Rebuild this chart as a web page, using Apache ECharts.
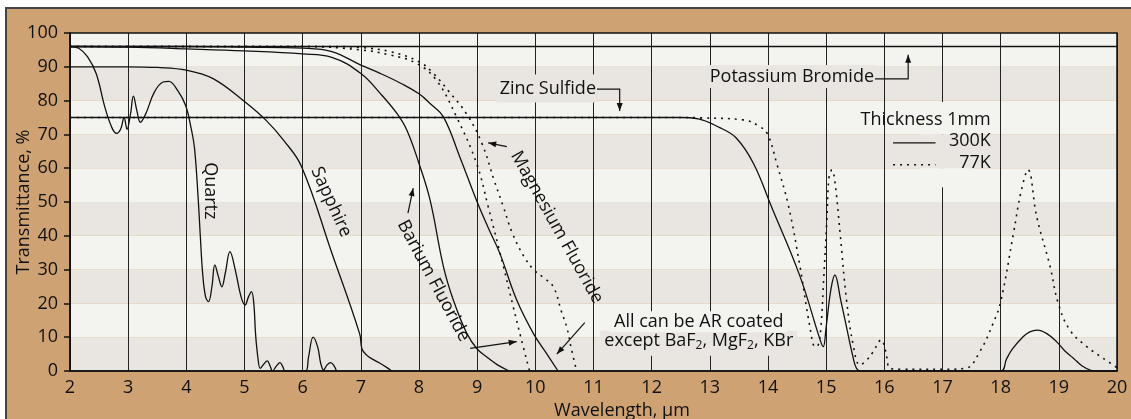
<!DOCTYPE html>
<html><head><meta charset="utf-8">
<script src="https://cdn.jsdelivr.net/npm/echarts@6/dist/echarts.min.js"></script>
<style>
html,body{margin:0;padding:0;background:#fff;overflow:hidden;}
#wrap{position:relative;width:1131px;height:419px;background:#fff;overflow:hidden;}
#frame{position:absolute;left:5px;top:7px;width:1140px;height:430px;background:#cea272;border-top:2px solid #444;border-left:2px solid #444;}
#c{position:absolute;left:0;top:0;width:1131px;height:419px;}
</style>
</head><body><div id="wrap"><div id="frame"></div><div id="c"></div></div>
<script>
// ---- tick labels ----
const xTickLabels = ['2','3','4','5','6','7','8','9','10','11','12','13','14','15','16','17','18','19','20'];
const yTickLabels = ['0','10','20','30','40','50','60','70','80','90','100'];

// ---- series (wavelength µm, transmittance %) ----
const kbrX = [2, 20];
const kbrY = [96, 96];

const znsX = [2, 12.49, 12.8, 13.17, 13.45, 13.75, 14.06, 14.55, 14.9, 14.95, 15.0, 15.08, 15.15, 15.25, 15.35, 15.45, 15.52, 15.6, 18.0, 18.1, 18.2, 18.39, 18.5, 18.63, 18.8, 18.96, 19.1, 19.25, 19.4, 19.55, 19.7, 20];
const znsY = [75, 75, 74.6, 72, 69, 61.4, 48.6, 28, 9, 7.2, 13, 24, 28.4, 21, 13, 5, 0.8, 0, 0, 3.5, 6.5, 10.2, 11.6, 12.1, 11, 8.7, 6, 3.8, 1.5, 0.2, 0, 0];

const zns77X = [2, 12.5, 12.83, 13.57, 13.86, 14.0, 14.15, 14.35, 14.55, 14.72, 14.81, 14.86, 14.91, 14.96, 15.01, 15.05, 15.1, 15.15, 15.24, 15.35, 15.47, 15.58, 15.7, 15.8, 15.95, 16.0, 16.04, 16.1, 16.3, 17.0, 17.4, 17.64, 17.87, 18.0, 18.22, 18.35, 18.47, 18.62, 18.85, 18.99, 19.19, 19.48, 19.76, 20.0];
const zns77Y = [75, 75, 74.9, 74.3, 72.3, 69.8, 61.4, 49, 30.9, 13.1, 7.2, 7.5, 13, 28, 44, 57.5, 59.5, 56, 40.7, 21, 7.2, 1.8, 3.3, 5.5, 9.2, 7.5, 4.2, 0.8, 0.5, 0.5, 0.8, 5.7, 14.1, 20.5, 40.7, 53, 59.5, 45.6, 30.9, 20, 12.1, 7.2, 3.8, 1];

const quartzX = [2.0, 2.15, 2.3, 2.45, 2.6, 2.72, 2.8, 2.87, 2.93, 2.98, 3.04, 3.09, 3.15, 3.21, 3.3, 3.45, 3.6, 3.7, 3.85, 3.99, 4.08, 4.14, 4.2, 4.24, 4.28, 4.33, 4.38, 4.44, 4.49, 4.55, 4.61, 4.67, 4.75, 4.84, 4.94, 5.01, 5.07, 5.12, 5.16, 5.19, 5.23, 5.27, 5.33, 5.39, 5.44, 5.48, 5.55, 5.61, 5.66, 5.7, 6.05, 6.1, 6.18, 6.26, 6.31, 6.36, 6.42, 6.48, 6.54, 6.58];
const quartzY = [96, 95.5, 93, 88, 78, 72, 70.3, 71.5, 75, 71.5, 76, 81.3, 77, 73.6, 76, 82.5, 85.5, 85.7, 83, 78.5, 72, 66, 52, 40, 29, 22, 20.5, 25, 31.4, 28, 24.9, 29, 35.3, 30, 22, 19.5, 22, 23.5, 20, 11, 4, 0.8, 2, 3, 1.5, 0, 1.5, 2.5, 1.2, 0, 0, 4, 10, 7, 2.3, 0.3, 1.8, 2.5, 1.5, 0];

const sapphireX = [2, 2.5, 3, 3.5, 4, 4.46, 5, 5.38, 5.67, 5.98, 6.5, 6.98, 7.02, 7.1, 7.2, 7.33, 7.45, 7.53];
const sapphireY = [90, 90, 90, 89.8, 89, 86.5, 79.7, 74, 68.3, 60.5, 35, 11, 6.5, 4.7, 3.5, 2.3, 1, 0];

const bafX = [2, 3, 4, 5, 6, 6.5, 7, 7.34, 7.62, 7.79, 8.0, 8.19, 8.42, 8.59, 8.82, 9.0, 9.16, 9.35, 9.55];
const bafY = [96, 95.8, 95.3, 94.7, 93.8, 92.8, 88, 82, 76.2, 71.3, 61.4, 50.6, 30.9, 21, 11.2, 6.5, 4.2, 1.8, 0];

const baf77X = [2, 6, 7, 7.5, 7.96, 8.3, 8.65, 8.99, 9.19, 9.45, 9.62, 9.75, 9.9];
const baf77Y = [96, 96, 95, 93.5, 91, 86, 75, 61.4, 48.6, 31, 19, 10, 0];

const mgfX = [2, 4, 5, 6, 6.5, 7, 7.34, 7.7, 8, 8.2, 8.42, 8.7, 9.0, 9.2, 9.39, 9.68, 9.97, 10.2, 10.39];
const mgfY = [96, 96, 95.8, 95.5, 94.5, 90.5, 88, 85, 82, 79, 75.2, 63.4, 50, 42, 34.8, 21, 11, 5, 0];

const mgf77X = [2, 6.5, 7, 7.5, 8, 8.25, 8.5, 8.82, 9.08, 9.3, 9.45, 9.6, 9.8, 9.97, 10.15, 10.31, 10.45, 10.54, 10.62, 10.71];
const mgf77Y = [96, 96, 95.7, 94.5, 91.5, 88, 83, 76, 67.4, 56, 48.6, 41, 34, 30, 27.5, 24.9, 17.5, 13, 6.5, 0];

// ---- chart ----
const FONT = '"Open Sans", "Noto Sans", sans-serif';
const INK = '#111111';
const LIGHT = '#f3f3ef', DARK = '#e9e6e1';

const pts = (xs, ys) => xs.map((x, i) => [x, ys[i]]);
const solidStyle = {color: INK, width: 1.3, type: 'solid'};
const dotStyle = {color: INK, width: 1.6, type: [2, 5]};
function mk(name, xs, ys, style) {
  return {type: 'line', name, data: pts(xs, ys), showSymbol: false, symbol: 'none',
    smooth: 0.4, lineStyle: style, silent: true, clip: true, z: 3};
}

const chart = echarts.init(document.getElementById('c'), null, {renderer: 'canvas'});
chart.setOption({
  animation: false,
  backgroundColor: 'transparent',
  grid: {left: 70, right: 14, top: 33, bottom: 48, containLabel: false, outerBoundsMode: 'none'},
  xAxis: {
    type: 'value', min: 2, max: 20, interval: 1,
    name: 'Wavelength, µm', nameLocation: 'middle', nameGap: 29,
    nameTextStyle: {fontFamily: FONT, fontSize: 18, color: INK, padding: [0, 0, 0, 57]},
    axisLine: {show: true, lineStyle: {color: INK, width: 1.5}},
    axisTick: {show: false},
    axisLabel: {margin: 8, fontFamily: FONT, fontSize: 18, color: INK,
      formatter: v => xTickLabels[Math.round(v) - 2]},
    splitLine: {show: true, lineStyle: {color: '#222', width: 1}}
  },
  yAxis: {
    type: 'value', min: 0, max: 100, interval: 10,
    name: 'Transmittance, %', nameLocation: 'middle', nameGap: 37, nameMoveOverlap: false,
    nameTextStyle: {fontFamily: FONT, fontSize: 18, color: INK},
    axisLine: {show: true, lineStyle: {color: INK, width: 1.5}},
    axisTick: {show: true, inside: false, length: 6, lineStyle: {color: INK, width: 1.5}},
    axisLabel: {margin: 12, fontFamily: FONT, fontSize: 18, color: INK,
      formatter: v => yTickLabels[Math.round(v / 10)]},
    splitLine: {show: false},
    splitArea: {show: true, areaStyle: {color: [DARK, LIGHT]}}
  },
  series: [
    mk('Potassium Bromide 300K', kbrX, kbrY, solidStyle),
    mk('Zinc Sulfide 300K', znsX, znsY, solidStyle),
    mk('Zinc Sulfide 77K', zns77X, zns77Y, dotStyle),
    mk('Quartz 300K', quartzX, quartzY, solidStyle),
    mk('Sapphire 300K', sapphireX, sapphireY, solidStyle),
    mk('Barium Fluoride 300K', bafX, bafY, solidStyle),
    mk('Barium Fluoride 77K', baf77X, baf77Y, dotStyle),
    mk('Magnesium Fluoride 300K', mgfX, mgfY, solidStyle),
    mk('Magnesium Fluoride 77K', mgf77X, mgf77Y, dotStyle)
  ]
});

// ---- annotations (positions in data units) ----
const P = (x, y) => chart.convertToPixel({xAxisIndex: 0, yAxisIndex: 0}, [x, y]);
const g = [];
const font18 = '18px ' + FONT;

function label(text, x, y, opts) {
  opts = opts || {};
  const p = P(x, y);
  const el = {type: 'text', x: p[0], y: p[1], z: opts.z || 20, silent: true,
    rotation: (opts.rot || 0) * Math.PI / 180,
    style: {text: text, font: font18, fill: INK, align: opts.align || 'center', verticalAlign: 'middle'}};
  if (opts.bg) { el.style.backgroundColor = opts.bg; el.style.padding = opts.pad || [4, 3]; }
  if (opts.rich) el.style.rich = opts.rich;
  g.push(el);
}
function arrow(coords, head) {
  const px = coords.map(c => P(c[0], c[1]));
  g.push({type: 'polyline', z: 20, silent: true, shape: {points: px},
    style: {stroke: INK, lineWidth: 1.2, fill: null}});
  if (head) {
    const a = px[px.length - 1], b = px[px.length - 2];
    const dx = a[0] - b[0], dy = a[1] - b[1], L = Math.hypot(dx, dy);
    const ux = dx / L, uy = dy / L, len = 8, w = 3;
    g.push({type: 'polygon', z: 21, silent: true, shape: {points: [
      [a[0], a[1]],
      [a[0] - ux * len - uy * w, a[1] - uy * len + ux * w],
      [a[0] - ux * len + uy * w, a[1] - uy * len - ux * w]]},
      style: {fill: INK}});
  }
}
function cover(x0, y0, x1, y1, color) {
  const a = P(x0, y0), b = P(x1, y1);
  g.push({type: 'rect', z: 15, silent: true,
    shape: {x: Math.min(a[0], b[0]), y: Math.min(a[1], b[1]), width: Math.abs(b[0] - a[0]), height: Math.abs(b[1] - a[1])},
    style: {fill: color}});
}

// material labels
label('Quartz', 4.41, 53.3, {rot: -90});
label('Sapphire', 6.49, 50, {rot: -65.6});
label('Barium Fluoride', 8.25, 26.7, {rot: -61.9});
label('Magnesium Fluoride', 10.37, 42.5, {rot: -60.8});
arrow([[7.81, 46.7], [7.90, 54.1]], true);
arrow([[8.88, 6.7], [9.68, 8.7]], true);
arrow([[9.51, 66.4], [9.19, 67.5]], true);

label('Zinc Sulfide', 11.06, 83.6, {align: 'right', bg: DARK, pad: [5, 1, 5, 3]});
arrow([[11.06, 83.4], [11.45, 83.4], [11.45, 76.9]], true);

label('Potassium Bromide', 15.84, 87.1, {align: 'right', bg: DARK, pad: [3, 1, 2, 3]});
arrow([[15.84, 86.4], [16.41, 86.4], [16.41, 93.6]], true);

// AR coating note
label('except BaF{s|2}, MgF{s|2}, KBr', 12.81, 8.2, {bg: DARK, pad: [0, 4, 4, 4], z: 19,
  rich: {s: {fontFamily: FONT, fontSize: 12, fill: INK, padding: [9, 0, 0, 0]}}});
label('All can be AR coated', 12.81, 14.6, {bg: LIGHT, pad: [3, 4, 0, 4], z: 20});
arrow([[10.85, 14.3], [10.37, 5.0]], true);

// legend
cover(16.6, 79.6, 17.5, 70, LIGHT);
cover(16.6, 70, 17.5, 60, DARK);
cover(16.6, 60, 17.5, 54.4, LIGHT);
label('Thickness 1mm', 17.83, 74.3, {align: 'right'});
label('300K', 17.83, 68, {align: 'right'});
label('77K', 17.83, 61.5, {align: 'right'});
(function () {
  const a = P(16.15, 67.5), b = P(16.88, 67.5), c = P(16.15, 61), d = P(16.88, 61);
  g.push({type: 'line', z: 20, silent: true, shape: {x1: a[0], y1: a[1], x2: b[0], y2: b[1]},
    style: {stroke: INK, lineWidth: 1.3}});
  g.push({type: 'line', z: 20, silent: true, shape: {x1: c[0], y1: c[1], x2: d[0], y2: d[1]},
    style: {stroke: INK, lineWidth: 1.6, lineDash: [2, 5]}});
})();

// plot frame (top/right edges)
(function () {
  const a = P(2, 100), b = P(20, 0);
  g.push({type: 'rect', z: 25, silent: true,
    shape: {x: a[0], y: a[1], width: b[0] - a[0], height: b[1] - a[1]},
    style: {fill: null, stroke: INK, lineWidth: 1.5}});
})();

chart.setOption({graphic: g});
</script>
</body></html>
